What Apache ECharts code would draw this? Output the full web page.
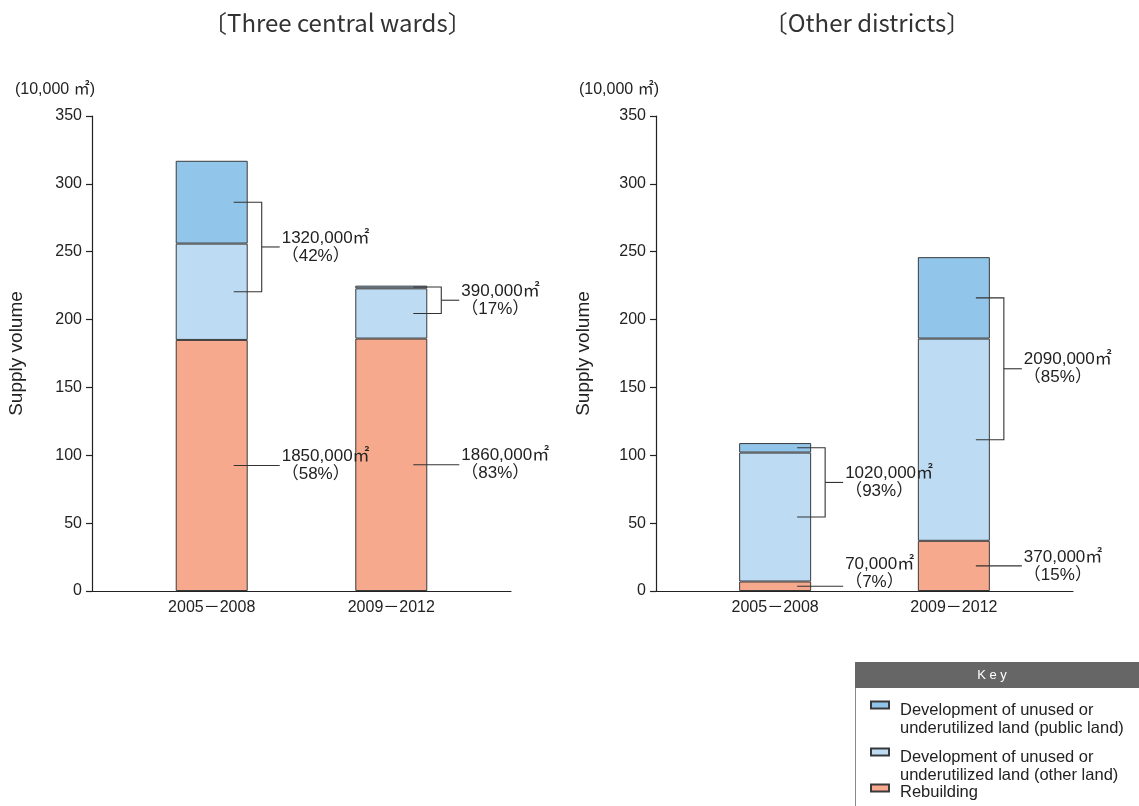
<!DOCTYPE html>
<html>
<head>
<meta charset="utf-8">
<title>Supply volume by period</title>
<script src="https://cdn.jsdelivr.net/npm/echarts@6/dist/echarts.min.js"></script>
<style>
  html, body { margin: 0; padding: 0; background: #ffffff; }
  #chart { width: 1139px; height: 806px; }
</style>
</head>
<body>
<div id="chart"></div>
<script>
// ---- data (units: 10,000 ㎡) ----
const periods = ['2005－2008', '2009－2012'];

// Three central wards
const centralPublic  = [61, 2];
const centralOther   = [71, 37];
const centralRebuild = [185, 186];
const centralUnusedShare  = [42, 17];
const centralRebuildShare = [58, 83];

// Other districts
const districtPublic  = [7, 60];
const districtOther   = [95, 149];
const districtRebuild = [7, 37];
const districtUnusedShare  = [93, 85];
const districtRebuildShare = [7, 15];

const yMin = 0, yMax = 350, yStep = 50;

const panelTitles = ['〔Three central wards〕', '〔Other districts〕'];
const seriesNames = [
  'Development of unused or\nunderutilized land (public land)',
  'Development of unused or\nunderutilized land (other land)',
  'Rebuilding'
];
const unitLabel = '(10,000 ㎡)';
const yAxisTitle = 'Supply volume';

// ---- styling ----
const FONT = "'Liberation Sans', Arial, 'Noto Sans CJK JP', sans-serif";
const TITLE_FONT = "'Noto Sans CJK JP', 'Noto Sans', sans-serif";
const COLORS = { public: '#92c5ea', other: '#bddcf4', rebuild: '#f7a98d' };
const INK = '#222222';

// The period axis has 8 evenly spaced slots; the two periods sit on slots 2 and 5
const SLOT_COUNT = 8;
const PERIOD_SLOTS = [2, 5];
const axisSlots = Array.from({ length: SLOT_COUNT }, (_, s) => {
  const k = PERIOD_SLOTS.indexOf(s);
  return k >= 0 ? periods[k] : '';
});
function toSlots(values) {
  const out = new Array(SLOT_COUNT).fill(null);
  PERIOD_SLOTS.forEach((s, k) => { out[s] = values[k]; });
  return out;
}

const grids = [
  { left: 92, top: 116, width: 419, height: 475 },
  { left: 656, top: 116, width: 417, height: 475 }
];

function makeXAxis(gridIndex) {
  return {
    type: 'category', gridIndex, data: axisSlots, boundaryGap: false,
    axisLine: { lineStyle: { color: INK, width: 1.2 } },
    axisTick: { show: false },
    axisLabel: { interval: 0, color: INK, fontSize: 16, fontFamily: FONT, margin: 9 },
    splitLine: { show: false }
  };
}
function makeYAxis(gridIndex, gap) {
  return {
    type: 'value', gridIndex, min: yMin, max: yMax, interval: yStep,
    name: yAxisTitle, nameLocation: 'middle', nameGap: gap,
    nameTextStyle: { color: INK, fontSize: 19, fontFamily: FONT },
    axisLine: { show: true, lineStyle: { color: INK, width: 1.2 } },
    axisTick: { show: true, length: 6, lineStyle: { color: INK, width: 1.2 } },
    axisLabel: { color: INK, fontSize: 16, fontFamily: FONT, margin: 10 },
    splitLine: { show: false }
  };
}

const barStyle = (color) => ({ color, borderColor: '#3a3a3a', borderWidth: 1 });

function makeBars(panel, pub, oth, reb) {
  const common = { type: 'bar', stack: 'panel' + panel, xAxisIndex: panel, yAxisIndex: panel, barWidth: 72, emphasis: { disabled: true } };
  return [
    Object.assign({}, common, { name: seriesNames[2], data: toSlots(reb), itemStyle: barStyle(COLORS.rebuild) }),
    Object.assign({}, common, { name: seriesNames[1], data: toSlots(oth), itemStyle: barStyle(COLORS.other) }),
    Object.assign({}, common, { name: seriesNames[0], data: toSlots(pub), itemStyle: barStyle(COLORS.public) })
  ];
}

// Bracket and pointer callouts; positions come from the axis scales
function noteRenderer(unusedShare, rebuildShare) {
  return function (params, api) {
    const slot = api.value(0);
    const pub = api.value(1), oth = api.value(2), reb = api.value(3);
    const i = params.dataIndex;
    const base = api.coord([slot, 0]);
    const cx = base[0], axisY = base[1];
    const xIn = cx + 22, xBrace = cx + 50, xOut = cx + 68;
    const yPub = api.coord([slot, reb + oth + pub / 2])[1];
    const yOth = api.coord([slot, reb + oth / 2])[1];
    const yMid = (yPub + yOth) / 2;
    const yReb = api.coord([slot, reb / 2])[1];
    const stroke = { stroke: '#333333', lineWidth: 1.1, fill: null };
    const label = (y, s) => ({
      type: 'text',
      style: { x: xOut + 2, y, text: s, fill: INK, fontSize: 17, fontFamily: FONT,
               align: 'left', verticalAlign: 'middle', lineHeight: 18 }
    });
    return {
      type: 'group',
      children: [
        { type: 'polyline', shape: { points: [[xIn, yPub], [xBrace, yPub], [xBrace, yOth], [xIn, yOth]] }, style: stroke },
        { type: 'line', shape: { x1: xBrace, y1: yMid, x2: xOut, y2: yMid }, style: stroke },
        label(yMid, (pub + oth) * 10 + ',000㎡\n（' + unusedShare[i] + '%）'),
        { type: 'line', shape: { x1: xIn, y1: yReb, x2: xOut, y2: yReb }, style: stroke },
        label(Math.min(yReb, axisY - 18), reb * 10 + ',000㎡\n（' + rebuildShare[i] + '%）')
      ]
    };
  };
}

function makeNotes(panel, pub, oth, reb, unusedShare, rebuildShare) {
  return {
    type: 'custom', xAxisIndex: panel, yAxisIndex: panel, z: 5, silent: true,
    encode: { x: 0, y: 3 },
    data: PERIOD_SLOTS.map((s, k) => [s, pub[k], oth[k], reb[k]]),
    renderItem: noteRenderer(unusedShare, rebuildShare)
  };
}

// Key entries: a short spacer line above the name lowers the text so the
// swatch sits level with the first line of the entry
function makeLegend(name, top, spacer) {
  return {
    data: [name],
    orient: 'vertical', left: 870, top, padding: 0,
    icon: 'rect', itemWidth: 18, itemHeight: 7, selectedMode: false,
    formatter: (n) => '{gap| }\n' + n,
    textStyle: {
      color: INK, fontSize: 16.5, lineHeight: 18, fontFamily: FONT, padding: [0, 0, 0, 6],
      rich: { gap: { fontSize: 2, lineHeight: spacer } }
    }
  };
}

const chart = echarts.init(document.getElementById('chart'), null, { renderer: 'canvas' });

chart.setOption({
  animation: false,
  backgroundColor: '#ffffff',
  grid: grids,
  xAxis: [makeXAxis(0), makeXAxis(1)],
  yAxis: [makeYAxis(0, 66), makeYAxis(1, 63)],
  legend: [
    makeLegend(seriesNames[0], 673, 28),
    makeLegend(seriesNames[1], 720, 28),
    makeLegend(seriesNames[2], 775, 8)
  ],
  series: [
    ...makeBars(0, centralPublic, centralOther, centralRebuild),
    ...makeBars(1, districtPublic, districtOther, districtRebuild),
    makeNotes(0, centralPublic, centralOther, centralRebuild, centralUnusedShare, centralRebuildShare),
    makeNotes(1, districtPublic, districtOther, districtRebuild, districtUnusedShare, districtRebuildShare)
  ],
  graphic: [
    { type: 'text', x: 203, y: 23, style: { text: panelTitles[0], fill: '#333', fontSize: 24, fontFamily: TITLE_FONT, align: 'left', verticalAlign: 'middle' } },
    { type: 'text', x: 867, y: 23, style: { text: panelTitles[1], fill: '#333', fontSize: 24, fontFamily: TITLE_FONT, align: 'center', verticalAlign: 'middle' } },
    { type: 'text', x: 95, y: 90, style: { text: unitLabel, fill: INK, fontSize: 16, fontFamily: FONT, align: 'right', verticalAlign: 'middle' } },
    { type: 'text', x: 659, y: 90, style: { text: unitLabel, fill: INK, fontSize: 16, fontFamily: FONT, align: 'right', verticalAlign: 'middle' } },
    // key box
    { type: 'rect', z: -1, shape: { x: 855.5, y: 662.5, width: 300, height: 160 }, style: { fill: '#ffffff', stroke: '#8a8a8a', lineWidth: 1 } },
    { type: 'rect', z: -1, shape: { x: 855.5, y: 662.5, width: 300, height: 25 }, style: { fill: '#666666', stroke: '#666666' } },
    { type: 'text', x: 992, y: 675, style: { text: 'K e y', fill: '#ffffff', fontSize: 13, fontFamily: FONT, align: 'center', verticalAlign: 'middle' } }
  ]
});
</script>
</body>
</html>
